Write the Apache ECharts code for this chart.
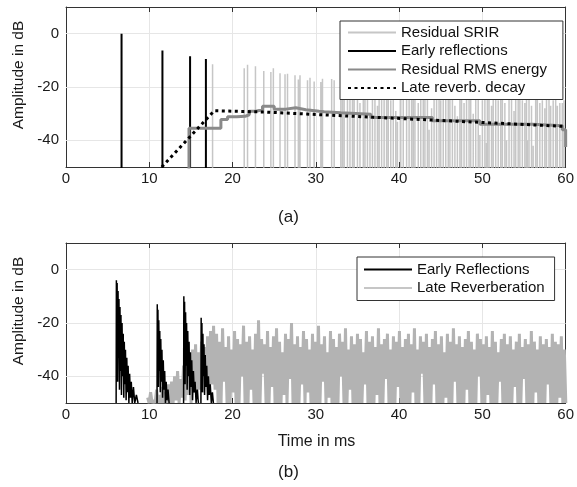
<!DOCTYPE html>
<html>
<head>
<meta charset="utf-8">
<script src="https://cdn.jsdelivr.net/npm/echarts@6/dist/echarts.min.js"></script>
<style>
  html, body { margin: 0; padding: 0; background: #fff; }
  #chart { width: 577px; height: 487px; }
</style>
</head>
<body>
<div id="chart"></div>
<script>
// ---- data (a) ----
const reflTimes = [6.67, 11.58, 14.9, 16.8]
const reflPeaks = [0, -6.3, -8.5, -9.5]

const srirTimes = [17.6, 21.4, 21.8, 22.75, 23.75, 24.6, 24.9, 25.7, 26.3, 26.6, 27.5, 27.9, 28.1, 29.0, 29.3, 29.8, 30.6, 30.8, 31.9, 32.2,
  33.0, 33.4, 34.1, 34.6, 35.0, 35.7, 36.2, 36.5, 37.1, 37.6, 38.2, 38.7, 39.3, 39.8, 40.2, 40.9, 41.5, 41.9, 42.6, 43.1,
  43.6, 44.2, 44.8, 45.3, 45.9, 46.4, 47.0, 47.5, 48.1, 48.6, 49.2, 49.7, 50.3, 50.8, 51.3, 51.9, 52.4, 52.9, 53.5, 54.0,
  54.5, 55.1, 55.6, 56.1, 56.6, 57.2, 57.7, 58.2, 58.8, 59.3, 59.8]
const srirPeaks = [-11.5, -13, -11.7, -12.2, -14, -14.4, -13, -14.8, -15.2, -15, -15.6, -17.2, -15.6, -17.5, -16.5, -17.9, -18.1, -16.9, -17, -17.5,
  -18, -20, -17, -22, -19, -21, -18, -30, -20, -17, -23, -19, -21, -33, -18, -20, -22, -19, -24, -20,
  -36, -21, -19, -23, -20, -22, -31, -21, -24, -20, -22, -38, -21, -23, -20, -25, -22, -40, -21, -24,
  -22, -26, -23, -42, -22, -25, -23, -27, -24, -26, -25]
const srirExtraTimes = [33.2, 33.8, 34.4, 35.3, 35.9, 36.8, 37.4, 37.9, 38.5, 39.0, 39.6, 40.5, 41.2, 41.7, 42.3, 42.9,
  43.4, 43.9, 44.5, 45.0, 45.6, 46.1, 46.7, 47.3, 47.8, 48.4, 48.9, 49.5, 50.0, 50.6, 51.1, 51.6, 52.2, 52.7, 53.2, 53.8,
  54.3, 54.8, 55.3, 55.9, 56.4, 56.9, 57.5, 58.0, 58.5, 59.0, 59.6]
const srirExtraPeaks = [-21, -24, -19, -26, -22, -20, -27, -23, -21, -25, -29, -22, -24, -20, -26, -23,
  -21, -28, -22, -25, -20, -24, -27, -22, -26, -21, -30, -23, -25, -22, -27, -24, -21, -26, -23, -29,
  -22, -25, -24, -27, -23, -26, -28, -24, -25, -27, -26]
const srirFloorTimes = [50.0, 50.5, 51.1, 51.6, 52.2, 52.7, 53.2, 53.8, 54.3, 54.8, 55.4, 55.9, 56.4, 56.9, 57.5, 58.0, 58.5, 59.0, 59.6]
const srirFloorPeaks = [-44, -41, -45, -42, -43, -40, -46, -42, -41, -44, -40, -43, -41, -45, -42, -40, -44, -41, -43]

const rmsTimes = [14.77, 14.77, 18.6, 19.4, 20.5, 21.5, 22.0, 22.8, 23.6, 25.0, 26.4, 27.6, 28.8, 30.4, 31.0, 33.0, 36.6, 44.0, 49.7, 56.0, 59.6, 60]
const rmsValues = [-52, -35.5, -32.2, -31.2, -31, -30.4, -29.1, -28.5, -27.2, -28.3, -27.8, -28.5, -29.1, -29.3, -29.7, -30.2, -31.4, -32.7, -34, -34.5, -36, -42.5]

const decayTimes = [11.5, 17.8, 24, 60]
const decayValues = [-50, -28.9, -29.4, -34.8]

// ---- data (b) ----
const earlyA = [[6.02, -50], [6.05, -4], [6.1, -36], [6.14, -5], [6.2, -42], [6.25, -8], [6.3, -33], [6.36, -11], [6.42, -45], [6.48, -14],
  [6.54, -38], [6.6, -17], [6.66, -47], [6.73, -20], [6.8, -40], [6.87, -24], [6.94, -48], [7.0, -27], [7.07, -43], [7.14, -30],
  [7.22, -49], [7.3, -33], [7.38, -46], [7.46, -36], [7.55, -50], [7.64, -39], [7.74, -48], [7.84, -42], [7.95, -50], [8.1, -44],
  [8.25, -50], [8.45, -47], [8.65, -50]]
const earlyB = [[10.93, -50], [10.96, -13], [11.0, -40], [11.04, -15], [11.09, -44], [11.14, -19], [11.2, -38], [11.26, -23], [11.32, -46],
  [11.38, -26], [11.45, -42], [11.52, -30], [11.6, -48], [11.68, -34], [11.76, -45], [11.85, -38], [11.94, -50], [12.03, -42],
  [12.14, -49], [12.25, -45], [12.38, -50]]
const earlyC = [[14.12, -50], [14.15, -10], [14.2, -38], [14.24, -12], [14.3, -43], [14.36, -16], [14.42, -36], [14.48, -20], [14.55, -45],
  [14.62, -23], [14.7, -40], [14.78, -27], [14.86, -47], [14.94, -31], [15.02, -44], [15.1, -34], [15.2, -49], [15.3, -38],
  [15.4, -46], [15.5, -42], [15.62, -50], [15.75, -45], [15.9, -50]]
const earlyD = [[16.2, -50], [16.23, -18], [16.28, -42], [16.32, -20], [16.38, -46], [16.44, -24], [16.5, -40], [16.57, -28], [16.64, -47],
  [16.72, -32], [16.8, -44], [16.9, -36], [17.0, -49], [17.1, -40], [17.2, -47], [17.32, -43], [17.45, -50], [17.58, -46], [17.7, -50]]

// late reverberation, sampled from 9.8 ms every 0.36 ms: peak then trough
const lateStart = 9.8
const lateStep = 0.36
const lateHi = [-48, -46, -49, -45, -47, -44, -46, -43, -42, -40, -38, -41, -36, -33, -35, -30, -28, -31, -27, -29, -25, -23, -21,
  -24, -27, -22, -29, -25, -30, -23, -26, -28, -21,
  -27, -25, -30, -24, -19, -26, -28, -23, -29, -25,
  -22, -27, -31, -24, -26, -20, -28, -25, -29, -23,
  -26, -30, -24, -27, -21, -28, -25, -31, -23, -26,
  -29, -24, -27, -22, -30, -25, -28, -24, -26, -31,
  -23, -27, -25, -29, -22, -28, -26, -24, -30, -25,
  -27, -23, -29, -26, -24, -28, -22, -30, -25, -27,
  -24, -29, -26, -23, -28, -25, -31, -24, -27, -22,
  -28, -25, -29, -26, -23, -27, -30, -24, -26, -28,
  -25, -29, -23, -27, -31, -26, -24, -28, -25, -30,
  -27, -24, -29, -26, -28, -23, -27, -30, -25, -28,
  -26, -29, -24, -27, -28, -25, -30]
const lateLo = [-50, -50, -50, -50, -50, -50, -50, -50, -50, -49, -50, -48, -49, -47, -50, -46, -48, -45, -46, -44, -47, -43, -45,
  -50, -50, -42, -50, -50, -46, -50, -50, -40, -50,
  -50, -45, -50, -50, -50, -39, -50, -50, -44, -50,
  -50, -50, -47, -50, -41, -50, -50, -50, -43, -50,
  -46, -50, -50, -50, -50, -42, -50, -48, -50, -50,
  -50, -40, -50, -50, -45, -50, -50, -50, -50, -43,
  -50, -50, -50, -47, -50, -50, -41, -50, -50, -50,
  -44, -50, -50, -50, -50, -46, -50, -50, -39, -50,
  -50, -50, -43, -50, -50, -50, -48, -50, -50, -42,
  -50, -50, -50, -45, -50, -50, -50, -40, -50, -50,
  -47, -50, -50, -50, -42, -50, -50, -50, -50, -44,
  -50, -50, -41, -50, -50, -50, -46, -50, -50, -50,
  -43, -50, -50, -50, -48, -50, -50]

const yTicks = [-40, -20, 0]

// ---- helpers ----
const FONT = 'Liberation Sans, Arial, sans-serif'
const AXIS = '#333'
const GRID = '#e6e6e6'

// spikes go down below the axis so the base is clipped away
function spikes(times, peaks) {
  const out = []
  times.forEach((t, i) => { out.push([t, -53], [t, peaks[i]], [t, -53]) })
  return out
}

function lateSignal() {
  const out = []
  lateHi.forEach((v, i) => {
    out.push([lateStart + i * lateStep, v])
    out.push([lateStart + (i + 0.5) * lateStep, lateLo[i]])
  })
  return out
}

function xAxes(g) {
  return [{
    gridIndex: g, type: 'value', min: 0, max: 60, interval: 10, position: 'bottom',
    axisLine: {onZero: false, lineStyle: {color: AXIS}},
    axisTick: {inside: true, length: 5, lineStyle: {color: AXIS}},
    axisLabel: {fontSize: 15, color: '#1a1a1a', fontFamily: FONT, margin: 4},
    splitLine: {show: true, lineStyle: {color: GRID}},
  }, {
    gridIndex: g, type: 'value', min: 0, max: 60, interval: 10, position: 'top',
    axisLine: {onZero: false, lineStyle: {color: AXIS}},
    axisTick: {inside: true, length: 5, lineStyle: {color: AXIS}},
    axisLabel: {show: false},
    splitLine: {show: false},
  }]
}

function yAxes(g) {
  return [{
    gridIndex: g, type: 'value', min: -50, max: 10, position: 'left',
    axisLine: {show: true, onZero: false, lineStyle: {color: AXIS}},
    axisTick: {show: true, inside: true, length: 5, customValues: yTicks, lineStyle: {color: AXIS}},
    axisLabel: {fontSize: 15, color: '#1a1a1a', fontFamily: FONT, margin: 7, customValues: yTicks},
    splitLine: {show: false},
  }, {
    gridIndex: g, type: 'value', min: -50, max: 10, position: 'right',
    axisLine: {show: true, onZero: false, lineStyle: {color: AXIS}},
    axisTick: {show: true, inside: true, length: 5, customValues: yTicks, lineStyle: {color: AXIS}},
    axisLabel: {show: false},
    splitLine: {show: false},
  }]
}

// horizontal grid lines under the data
function gridLines(g) {
  return {
    type: 'line', xAxisIndex: g * 2, yAxisIndex: g * 2, z: 1,
    data: [[0, -100]], symbol: 'none', silent: true,
    lineStyle: {opacity: 0},
    markLine: {
      silent: true, symbol: 'none', label: {show: false}, z: 1,
      lineStyle: {color: GRID, type: 'solid', width: 1},
      data: yTicks.map(v => ({yAxis: v})),
    },
  }
}

const legendBase = {
  orient: 'vertical', itemWidth: 48, itemHeight: 16, itemGap: 3.5,
  backgroundColor: '#fff', borderColor: '#333', borderWidth: 1, borderRadius: 0,
  itemStyle: {opacity: 0},
  textStyle: {fontSize: 15, color: '#111', fontFamily: FONT},
}

const option = {
  animation: false,
  backgroundColor: '#fff',
  grid: [
    {left: 66, top: 7, width: 501, height: 160},
    {left: 66, top: 243, width: 501, height: 160},
  ],
  xAxis: [...xAxes(0), ...xAxes(1)],
  yAxis: [...yAxes(0), ...yAxes(1)],
  legend: [
    {...legendBase, left: 340, top: 21, padding: [4, 16, 4, 7], z: 10,
      data: ['Residual SRIR', 'Early reflections', 'Residual RMS energy', 'Late reverb. decay']},
    {...legendBase, left: 357, top: 257, padding: [5, 10, 5, 6], z: 10,
      data: ['Early Reflections', {name: 'Late Reverberation', lineStyle: {width: 1.5}}]},
  ],
  graphic: [
    {type: 'text', x: 19, y: 75, rotation: Math.PI / 2,
      style: {text: 'Amplitude in dB', fontSize: 15.5, fontFamily: FONT, fill: '#1a1a1a', align: 'center', verticalAlign: 'middle'}},
    {type: 'text', x: 19, y: 311, rotation: Math.PI / 2,
      style: {text: 'Amplitude in dB', fontSize: 15.5, fontFamily: FONT, fill: '#1a1a1a', align: 'center', verticalAlign: 'middle'}},
    {type: 'text', x: 288.5, y: 217,
      style: {text: '(a)', fontSize: 17, fontFamily: FONT, fill: '#1a1a1a', align: 'center', verticalAlign: 'middle'}},
    {type: 'text', x: 316.5, y: 442,
      style: {text: 'Time in ms', fontSize: 16, fontFamily: FONT, fill: '#1a1a1a', align: 'center', verticalAlign: 'middle'}},
    {type: 'text', x: 288.5, y: 472,
      style: {text: '(b)', fontSize: 17, fontFamily: FONT, fill: '#1a1a1a', align: 'center', verticalAlign: 'middle'}},
  ],
  series: [
    gridLines(0),
    gridLines(1),
    {
      name: 'Residual SRIR', type: 'line', xAxisIndex: 0, yAxisIndex: 0, symbol: 'none', clip: true,
      data: spikes(srirTimes, srirPeaks).concat(spikes(srirExtraTimes, srirExtraPeaks), spikes(srirFloorTimes, srirFloorPeaks)),
      lineStyle: {color: '#c6c6c6', width: 1.5}, itemStyle: {color: '#c6c6c6'},
    },
    {
      name: 'Early reflections', type: 'line', xAxisIndex: 0, yAxisIndex: 0, symbol: 'none', clip: true,
      data: spikes(reflTimes, reflPeaks),
      lineStyle: {color: '#000', width: 2}, itemStyle: {color: '#000'},
    },
    {
      name: 'Residual RMS energy', type: 'line', xAxisIndex: 0, yAxisIndex: 0, symbol: 'none', clip: true, step: 'end',
      data: rmsTimes.map((t, i) => [t, rmsValues[i]]),
      lineStyle: {color: '#8a8a8a', width: 3}, itemStyle: {color: '#8a8a8a'},
    },
    {
      name: 'Late reverb. decay', type: 'line', xAxisIndex: 0, yAxisIndex: 0, symbol: 'none', clip: true,
      data: decayTimes.map((t, i) => [t, decayValues[i]]),
      lineStyle: {color: '#000', width: 3, type: [3, 3.5]}, itemStyle: {color: '#000'},
    },
    {
      name: 'Late Reverberation', type: 'line', xAxisIndex: 2, yAxisIndex: 2, symbol: 'none', clip: true,
      data: lateSignal(),
      lineStyle: {color: '#b3b3b3', width: 3}, itemStyle: {color: '#b3b3b3'},
    },
    {
      name: 'Early Reflections', type: 'line', xAxisIndex: 2, yAxisIndex: 2, symbol: 'none', clip: true,
      data: [...earlyA, null, ...earlyB, null, ...earlyC, null, ...earlyD],
      lineStyle: {color: '#000', width: 1.5}, itemStyle: {color: '#000'},
    },
  ],
}

const chart = echarts.init(document.getElementById('chart'))
chart.setOption(option)
</script>
</body>
</html>
